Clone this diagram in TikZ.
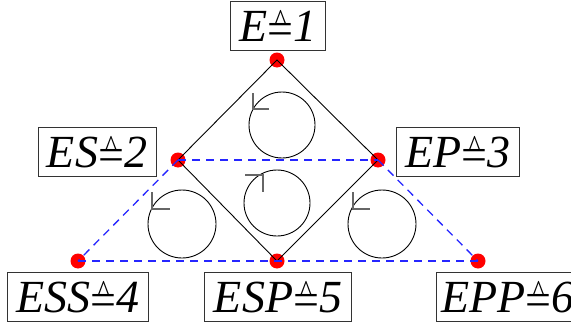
\documentclass[tikz,border=0pt]{standalone}
\usepackage{fontspec}
\usepackage{graphicx}
\setmainfont{Liberation Serif}
\newcommand{\hateq}{{\upshape\ooalign{\raisebox{-0.08em}{=}\cr\hidewidth\raisebox{0.52em}{\scalebox{0.6}[0.7]{\raisebox{-0.45em}{\textasciicircum}}}\hidewidth\cr}}}
\begin{document}
\begin{tikzpicture}[x=1pt,y=-1pt,
  dot/.style={circle,fill=red,inner sep=0pt,minimum size=15pt},
  lbl/.style={draw=black!80,line width=0.9pt,inner xsep=9pt,inner ysep=9pt,font=\fontsize{46}{50}\selectfont\itshape},
  solidedge/.style={black,line width=0.9pt},
  dashedge/.style={blue!85!white,line width=1.3pt,dash pattern=on 8pt off 6pt},
  cyc/.style={black,line width=0.9pt},
  tick/.style={black!60,line width=1.2pt}]
\useasboundingbox (0,0) rectangle (571,324);
% dots
\node[dot] (n1) at (277,60) {};
\node[dot] (n2) at (178,160) {};
\node[dot] (n3) at (378,160) {};
\node[dot] (n4) at (78,261) {};
\node[dot] (n5) at (277,261) {};
\node[dot] (n6) at (478,261) {};
% labels
\node[lbl] (l1) at (278,26) {E\hateq1};
\node[lbl] (l2) at (97,152) {ES\hateq2};
\node[lbl] (l3) at (458,152) {EP\hateq3};
\node[lbl] (l4) at (78,297) {ESS\hateq4};
\node[lbl] (l5) at (278,297) {ESP\hateq5};
\node[lbl,anchor=west,inner xsep=5pt] (l6) at (436,297) {EPP\hateq6};
% edges
\draw[solidedge] (n2.center) -- (n1.center) -- (n3.center) -- (n5.center) -- (n2.center);
\draw[dashedge] (n2.center) -- (n3.center);
\draw[dashedge] (n2.center) -- (n4.center);
\draw[dashedge] (n3.center) -- (n6.center);
\draw[dashedge] (n4.center) -- (n5.center) -- (n6.center);
% cycle circles
\draw[cyc] (282,125) circle (33);
\draw[cyc] (277,203) circle (33);
\draw[cyc] (182,224) circle (34);
\draw[cyc] (382,224) circle (34);
\draw[tick] (253,93) -- (253,109) -- (269,109);
\draw[tick] (245,175) -- (263,175) -- (263,192);
\draw[tick] (152,192) -- (152,209) -- (170,209);
\draw[tick] (353,192) -- (353,209) -- (370,209);
\end{tikzpicture}
\end{document}
